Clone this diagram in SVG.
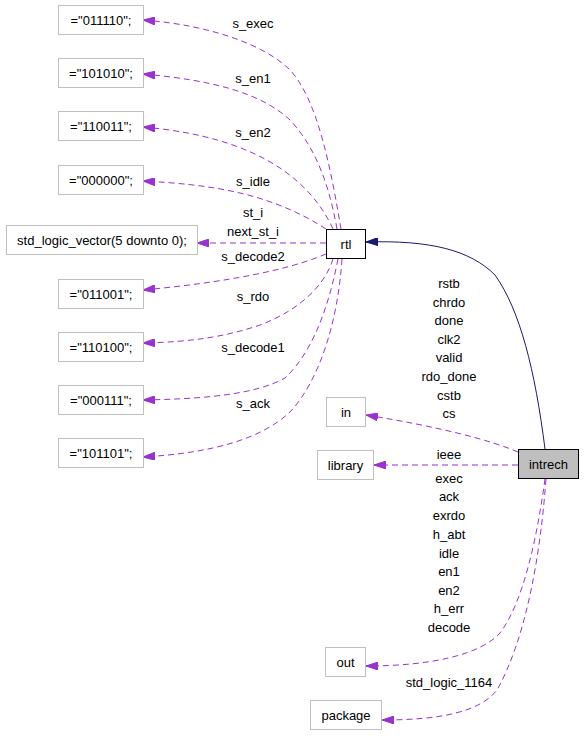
<svg xmlns="http://www.w3.org/2000/svg" width="584" height="736" viewBox="0 0 584 736">
<style>
text{font-family:"Liberation Sans",Arial,Helvetica,sans-serif;font-size:13px;fill:#000;text-anchor:middle}
.n{fill:#fff;stroke:#bfbfbf;stroke-width:1}
.k{fill:#fff;stroke:#000;stroke-width:1}
.e{fill:none;stroke:#9a32cd;stroke-width:1;stroke-dasharray:6,4;marker-end:url(#ap)}
.s{fill:none;stroke:#191970;stroke-width:1;marker-end:url(#an)}
</style>
<defs>
<marker id="ap" viewBox="0 0 12 8" refX="12" refY="4" markerWidth="12" markerHeight="8" markerUnits="userSpaceOnUse" orient="auto"><path d="M0,0L12,4L0,8z" fill="#9a32cd" stroke="#9a32cd" stroke-width="1"/></marker>
<marker id="an" viewBox="0 0 12 8" refX="12" refY="4" markerWidth="12" markerHeight="8" markerUnits="userSpaceOnUse" orient="auto"><path d="M0,0L12,4L0,8z" fill="#191970" stroke="#191970" stroke-width="1"/></marker>
</defs>
<rect width="584" height="736" fill="#fff"/>
<g id="connectors">
<path class="e" d="M341,229 C331,170 318,100 290,70 C265,45 210,25 143,20"/>
<path class="e" d="M337,229 C330,190 318,150 290,120 C260,92 210,80 143,74"/>
<path class="e" d="M333,229 C322,205 305,185 280,168 C245,145 200,132 143,127"/>
<path class="e" d="M326,229 C300,212 270,200 240,193 C210,186 180,183 143,181"/>
<path class="e" d="M326,243 L197,243"/>
<path class="e" d="M326,254 C300,265 250,280 143,290"/>
<path class="e" d="M333,259 C325,285 300,310 260,325 C225,337 190,342 143,343"/>
<path class="e" d="M338,259 C330,300 315,350 285,378 C255,395 200,399 143,400"/>
<path class="e" d="M342,259 C338,320 320,380 290,412 C260,440 210,453 143,457"/>
<path class="s" d="M545,449 C535,370 520,310 495,275 C470,250 430,240 366,242"/>
<path class="e" d="M518,452 C490,440 440,427 366,415"/>
<path class="e" d="M518,465 L374,465"/>
<path class="e" d="M545,479 C538,530 525,600 500,633 C480,655 430,666 366,666"/>
<path class="e" d="M546,479 C540,560 525,640 497,690 C480,712 440,720 382,720"/>
<text x="253" y="28">s_exec</text>
<text x="253" y="83">s_en1</text>
<text x="253" y="137">s_en2</text>
<text x="253" y="186">s_idle</text>
<text x="253" y="217">st_i</text>
<text x="253" y="236">next_st_i</text>
<text x="253" y="261">s_decode2</text>
<text x="253" y="301">s_rdo</text>
<text x="253" y="352">s_decode1</text>
<text x="253" y="408">s_ack</text>
<text x="449" y="288">rstb</text>
<text x="449" y="307">chrdo</text>
<text x="449" y="325">done</text>
<text x="449" y="344">clk2</text>
<text x="449" y="362">valid</text>
<text x="449" y="381">rdo_done</text>
<text x="449" y="400">cstb</text>
<text x="449" y="418">cs</text>
<text x="449" y="459">ieee</text>
<text x="449" y="483">exec</text>
<text x="449" y="501">ack</text>
<text x="449" y="520">exrdo</text>
<text x="449" y="539">h_abt</text>
<text x="449" y="558">idle</text>
<text x="449" y="576">en1</text>
<text x="449" y="595">en2</text>
<text x="449" y="613">h_err</text>
<text x="449" y="632">decode</text>
<text x="449" y="687">std_logic_1164</text>
</g>
<g id="n_011110"><rect class="n" x="58.5" y="5.5" width="85" height="29"/><text x="101" y="24.5">="011110";</text></g>
<g id="n_101010"><rect class="n" x="58.5" y="58.5" width="85" height="29"/><text x="101" y="77.5">="101010";</text></g>
<g id="n_110011"><rect class="n" x="58.5" y="111.5" width="85" height="29"/><text x="101" y="130.5">="110011";</text></g>
<g id="n_000000"><rect class="n" x="58.5" y="165.5" width="85" height="29"/><text x="101" y="184.5">="000000";</text></g>
<g id="n_slv"><rect class="n" x="6.5" y="225.5" width="191" height="29"/><text x="102" y="244.5">std_logic_vector(5 downto 0);</text></g>
<g id="n_011001"><rect class="n" x="58.5" y="279.5" width="85" height="29"/><text x="101" y="298.5">="011001";</text></g>
<g id="n_110100"><rect class="n" x="58.5" y="332.5" width="85" height="29"/><text x="101" y="351.5">="110100";</text></g>
<g id="n_000111"><rect class="n" x="58.5" y="385.5" width="85" height="29"/><text x="101" y="404.5">="000111";</text></g>
<g id="n_101101"><rect class="n" x="58.5" y="438.5" width="85" height="29"/><text x="101" y="457.5">="101101";</text></g>
<g id="n_rtl"><rect class="k" x="326.5" y="229.5" width="39" height="29"/><text x="346" y="248.5">rtl</text></g>
<g id="n_in"><rect class="n" x="326.5" y="397.5" width="39" height="29"/><text x="346" y="416.5">in</text></g>
<g id="n_library"><rect class="n" x="317.5" y="450.5" width="56" height="29"/><text x="345.5" y="469.5">library</text></g>
<g id="n_intrech"><rect x="518.5" y="449.5" width="60" height="29" fill="#bfbfbf" stroke="#000"/><text x="548.5" y="468.5">intrech</text></g>
<g id="n_out"><rect class="n" x="325.5" y="647.5" width="40" height="29"/><text x="345.5" y="666.5">out</text></g>
<g id="n_package"><rect class="n" x="310.5" y="700.5" width="71" height="29"/><text x="346" y="719.5">package</text></g>
</svg>
